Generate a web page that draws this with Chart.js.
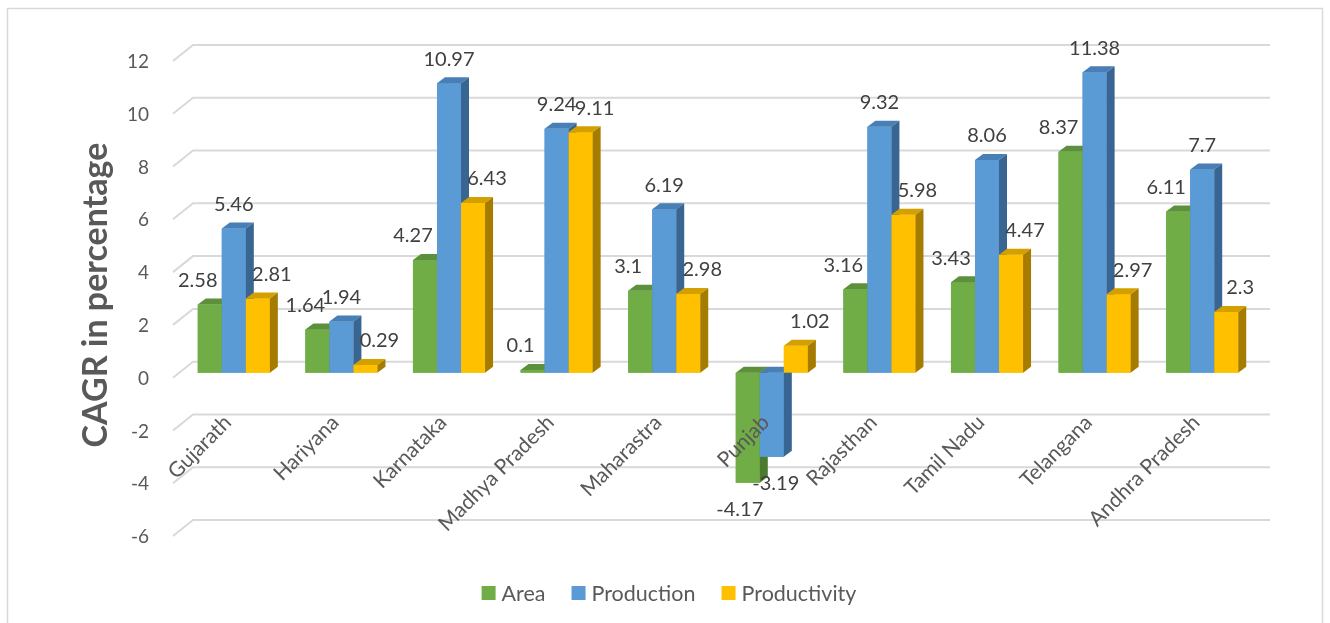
<!DOCTYPE html>
<html>
<head>
<meta charset="utf-8">
<script src="https://cdn.jsdelivr.net/npm/chart.js@4/dist/chart.umd.min.js"></script>
<style>
  html, body { margin: 0; padding: 0; background: #ffffff; }
  #wrap { width: 1330px; height: 623px; }
</style>
</head>
<body>
<div id="wrap"><canvas id="c" width="1330" height="623"></canvas></div>
<script>
const categories = ['Gujarath', 'Hariyana', 'Karnataka', 'Madhya Pradesh', 'Maharastra', 'Punjab', 'Rajasthan', 'Tamil Nadu', 'Telangana', 'Andhra Pradesh'];
const area = [2.58, 1.64, 4.27, 0.1, 3.1, -4.17, 3.16, 3.43, 8.37, 6.11];
const production = [5.46, 1.94, 10.97, 9.24, 6.19, -3.19, 9.32, 8.06, 11.38, 7.7];
const productivity = [2.81, 0.29, 6.43, 9.11, 2.98, 1.02, 5.98, 4.47, 2.97, 2.3];
const seriesNames = ['Area', 'Production', 'Productivity'];
const yMin = -6, yMax = 12, yStep = 2;
const yTitle = 'CAGR in percentage';

const FONT = 'Lato, "Open Sans", sans-serif';
const front = ['#70AD47', '#5B9BD5', '#FFC000'];
const topC = ['#5C903A', '#477FB6', '#D4A000'];
const sideC = ['#4C7A2E', '#386592', '#A67C00'];
const labelDx = [-12, 0, 14];
const DX = 8, DY = -6;

const threeD = {
  id: 'threeD',
  beforeDatasetsDraw(chart) {
    const ctx = chart.ctx, y = chart.scales.y, ca = chart.chartArea;
    ctx.save();
    // border
    ctx.strokeStyle = '#d9d9d9'; ctx.lineWidth = 1.5;
    ctx.strokeRect(7.5, 8.5, 1315, 640);
    // gridlines (back wall + side)
    ctx.strokeStyle = '#d9d9d9'; ctx.lineWidth = 2;
    for (let v = yMin; v <= yMax; v += yStep) {
      const py = y.getPixelForValue(v);
      ctx.beginPath();
      ctx.moveTo(ca.left - 7, py + 5);
      ctx.lineTo(ca.left + 13, py - 11);
      ctx.lineTo(ca.right + 14, py - 11);
      ctx.stroke();
      ctx.fillStyle = '#595959';
      ctx.font = '19px ' + FONT;
      ctx.textAlign = 'right'; ctx.textBaseline = 'middle';
      ctx.fillText(String(v), 149, py + 6);
    }
    // y title
    ctx.translate(96, 295);
    ctx.rotate(-Math.PI / 2);
    ctx.font = 'bold 34px ' + FONT;
    ctx.fillStyle = '#595959';
    ctx.textAlign = 'center'; ctx.textBaseline = 'middle';
    ctx.fillText(yTitle, 0, 0);
    ctx.restore();
  },
  afterDatasetsDraw(chart) {
    const ctx = chart.ctx;
    ctx.save();
    for (let d = 0; d < chart.data.datasets.length; d++) {
      const meta = chart.getDatasetMeta(d);
      meta.data.forEach((el) => {
        const p = el.getProps(['x', 'y', 'base', 'width'], true);
        const l = p.x - p.width / 2, r = p.x + p.width / 2;
        const t = Math.min(p.y, p.base), b = Math.max(p.y, p.base);
        ctx.fillStyle = front[d];
        ctx.fillRect(l, t, r - l, b - t);
        ctx.fillStyle = topC[d];
        ctx.beginPath();
        ctx.moveTo(l, t); ctx.lineTo(r, t); ctx.lineTo(r + DX, t + DY); ctx.lineTo(l + DX, t + DY);
        ctx.closePath(); ctx.fill();
        ctx.fillStyle = sideC[d];
        ctx.beginPath();
        ctx.moveTo(r, t); ctx.lineTo(r + DX, t + DY); ctx.lineTo(r + DX, b + DY); ctx.lineTo(r, b);
        ctx.closePath(); ctx.fill();
      });
    }
    // data labels
    ctx.font = '20px ' + FONT;
    ctx.fillStyle = '#404040';
    ctx.textAlign = 'center'; ctx.textBaseline = 'middle';
    for (let d = 0; d < chart.data.datasets.length; d++) {
      const meta = chart.getDatasetMeta(d);
      const vals = chart.data.datasets[d].data;
      meta.data.forEach((el, i) => {
        const p = el.getProps(['x', 'y', 'base'], true);
        const v = vals[i];
        const ly = v >= 0 ? p.y - 24 : p.y + 27;
        ctx.fillText(String(v), p.x + labelDx[d] + (v < 0 ? 4 : 0), ly);
      });
    }
    // category labels
    const xs = chart.scales.x;
    ctx.font = '21px ' + FONT;
    ctx.fillStyle = '#595959';
    ctx.textAlign = 'right'; ctx.textBaseline = 'middle';
    categories.forEach((c, i) => {
      const px = xs.getPixelForValue(i);
      ctx.save();
      ctx.translate(px - 6, 419);
      ctx.rotate(-Math.PI / 4);
      ctx.fillText(c, 0, 0);
      ctx.restore();
    });
    ctx.restore();
  },
  afterDraw(chart) {
    const ctx = chart.ctx;
    ctx.save();
    ctx.font = '21.5px ' + FONT;
    const box = 14, gap = 6, itemGap = 26;
    const ds = chart.data.datasets;
    let total = 0;
    const widths = ds.map(s => ctx.measureText(s.label).width);
    widths.forEach((w, i) => { total += box + gap + w + (i < ds.length - 1 ? itemGap : 0); });
    let x = 669 - total / 2;
    const cy = 593;
    ds.forEach((s, i) => {
      ctx.fillStyle = s.backgroundColor;
      ctx.fillRect(x, cy - box / 2, box, box);
      x += box + gap;
      ctx.fillStyle = '#595959';
      ctx.textAlign = 'left'; ctx.textBaseline = 'middle';
      ctx.fillText(s.label, x, cy + 1);
      x += widths[i] + itemGap;
    });
    ctx.restore();
  }
};

new Chart(document.getElementById('c'), {
  type: 'bar',
  data: {
    labels: categories,
    datasets: [
      { label: seriesNames[0], data: area, backgroundColor: front[0] },
      { label: seriesNames[1], data: production, backgroundColor: front[1] },
      { label: seriesNames[2], data: productivity, backgroundColor: front[2] }
    ]
  },
  options: {
    responsive: false,
    animation: false,
    devicePixelRatio: 1,
    layout: { padding: { left: 180, right: 74, top: 56, bottom: 92 } },
    datasets: { bar: { categoryPercentage: 0.67, barPercentage: 1.0, borderWidth: 0 } },
    scales: {
      x: { display: false, grid: { display: false } },
      y: { display: false, min: yMin, max: yMax, ticks: { stepSize: yStep }, grid: { display: false } }
    },
    plugins: { legend: { display: false }, tooltip: { enabled: false } }
  },
  plugins: [threeD]
});
</script>
</body>
</html>
